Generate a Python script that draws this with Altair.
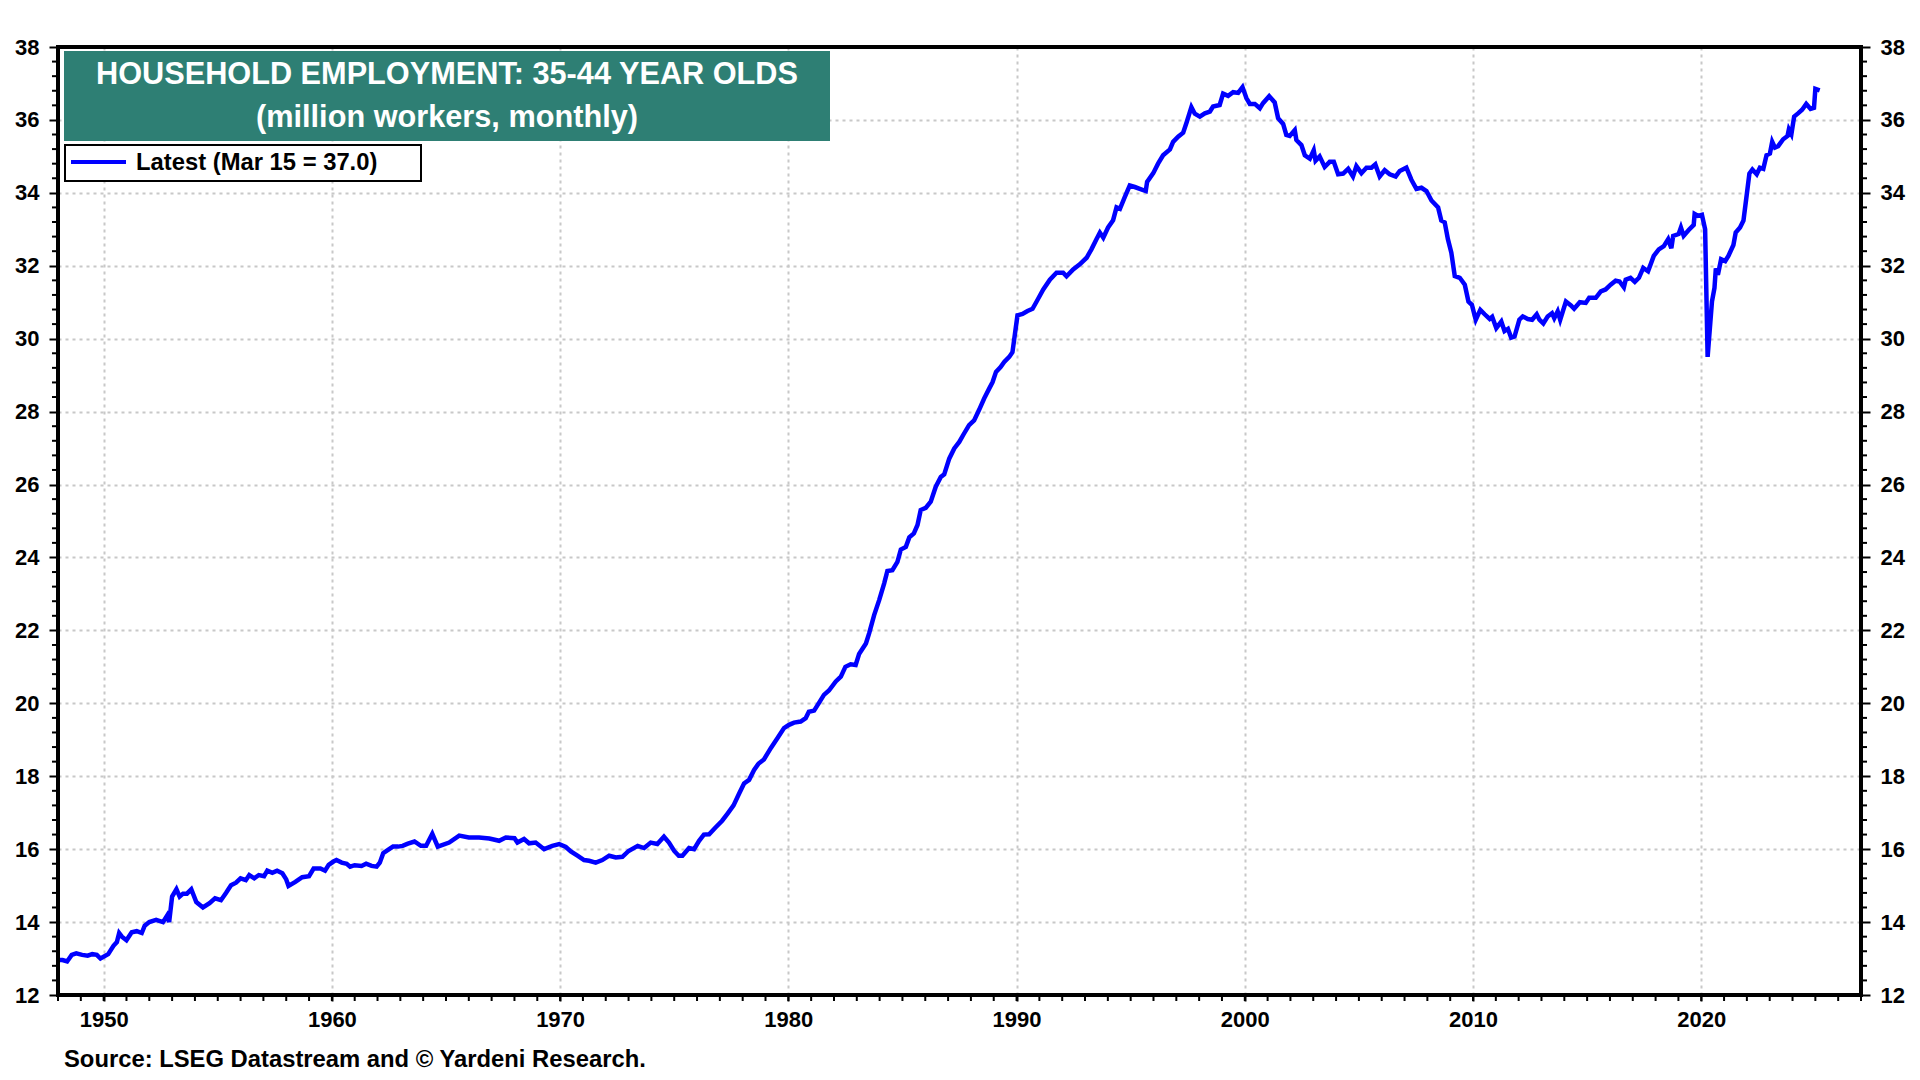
import altair as alt
import pandas as pd

# ---------------- data ----------------
yr_1948_1964 = [1948.0, 1948.2, 1948.4, 1948.6, 1948.8, 1949.06, 1949.3, 1949.5, 1949.7, 1949.86,
                1950.2, 1950.43, 1950.58, 1950.68, 1950.8, 1951.0, 1951.23, 1951.45, 1951.67, 1951.8,
                1952.0, 1952.3, 1952.6, 1952.78, 1952.87, 1953.0, 1953.19, 1953.33, 1953.48, 1953.65,
                1953.84, 1954.06, 1954.35, 1954.64, 1954.88, 1955.14, 1955.36, 1955.58, 1955.8, 1956.0,
                1956.23, 1956.38, 1956.6, 1956.8, 1957.03, 1957.17, 1957.39, 1957.6, 1957.83, 1958.0,
                1958.1, 1958.4, 1958.7, 1959.0, 1959.2, 1959.5, 1959.7, 1959.86, 1960.07, 1960.2,
                1960.43, 1960.65, 1960.8, 1961.0, 1961.3, 1961.5, 1961.74, 1961.96, 1962.1, 1962.25,
                1962.46, 1962.68, 1962.9, 1963.1, 1963.33, 1963.62, 1963.9, 1964.13, 1964.4, 1964.64]
val_1948_1964 = [12.96, 12.96, 12.92, 13.1, 13.14, 13.1, 13.08, 13.12, 13.1, 13.0,
                 13.12, 13.35, 13.45, 13.7, 13.6, 13.5, 13.72, 13.75, 13.7, 13.9,
                 14.0, 14.06, 14.0, 14.18, 14.0, 14.7, 14.9, 14.7, 14.78, 14.78,
                 14.9, 14.55, 14.4, 14.52, 14.65, 14.6, 14.8, 15.01, 15.08, 15.2,
                 15.15, 15.29, 15.2, 15.29, 15.26, 15.41, 15.35, 15.41, 15.34, 15.17,
                 14.99, 15.1, 15.23, 15.26, 15.47, 15.47, 15.41, 15.57, 15.66, 15.7,
                 15.63, 15.6, 15.52, 15.56, 15.54, 15.6, 15.54, 15.52, 15.63, 15.89,
                 15.98, 16.07, 16.07, 16.09, 16.15, 16.21, 16.09, 16.09, 16.42, 16.07]

yr_1965_1978 = [1965.14, 1965.58, 1966.0, 1966.45, 1966.9, 1967.33, 1967.62, 1968.0, 1968.13, 1968.42,
                1968.64, 1968.93, 1969.3, 1969.66, 1969.96, 1970.25, 1970.47, 1970.76, 1971.05, 1971.27,
                1971.56, 1971.85, 1972.15, 1972.44, 1972.73, 1973.0, 1973.4, 1973.68, 1973.97, 1974.26,
                1974.55, 1974.77, 1975.0, 1975.2, 1975.36, 1975.65, 1975.87, 1976.09, 1976.3, 1976.53,
                1976.82, 1977.1, 1977.33, 1977.6, 1977.84, 1978.06, 1978.28, 1978.5, 1978.7, 1978.93]
val_1965_1978 = [16.18, 16.37, 16.32, 16.32, 16.29, 16.23, 16.32, 16.3, 16.18, 16.28,
                 16.16, 16.18, 16.0, 16.09, 16.14, 16.06, 15.94, 15.82, 15.7, 15.68,
                 15.63, 15.7, 15.82, 15.77, 15.79, 15.95, 16.09, 16.03, 16.18, 16.14,
                 16.34, 16.18, 15.95, 15.82, 15.82, 16.03, 16.0, 16.23, 16.4, 16.41,
                 16.6, 16.78, 16.97, 17.2, 17.52, 17.8, 17.9, 18.17, 18.35, 18.46]

yr_1979_1990 = [1979.23, 1979.52, 1979.81, 1980.03, 1980.25, 1980.54, 1980.76, 1980.9, 1981.13, 1981.35,
                1981.56, 1981.78, 1982.08, 1982.3, 1982.5, 1982.73, 1982.95, 1983.1, 1983.4, 1983.54,
                1983.76, 1983.98, 1984.2, 1984.34, 1984.56, 1984.78, 1984.93, 1985.15, 1985.3, 1985.5,
                1985.66, 1985.8, 1986.02, 1986.24, 1986.46, 1986.68, 1986.83, 1987.05, 1987.27, 1987.49,
                1987.7, 1987.92, 1988.14, 1988.36, 1988.58, 1988.8, 1988.95, 1989.1, 1989.3, 1989.46,
                1989.68, 1989.82, 1990.04, 1990.26, 1990.48, 1990.7]
val_1979_1990 = [18.77, 19.04, 19.32, 19.41, 19.47, 19.5, 19.59, 19.77, 19.8, 20.02,
                 20.23, 20.35, 20.6, 20.73, 21.0, 21.07, 21.05, 21.35, 21.64, 21.92,
                 22.42, 22.83, 23.29, 23.63, 23.65, 23.88, 24.22, 24.29, 24.55, 24.66,
                 24.89, 25.3, 25.36, 25.53, 25.94, 26.21, 26.28, 26.71, 26.99, 27.17,
                 27.4, 27.63, 27.76, 28.05, 28.36, 28.63, 28.81, 29.09, 29.22, 29.36,
                 29.5, 29.63, 30.64, 30.68, 30.76, 30.82]

yr_1991_2008 = [1990.88, 1991.17, 1991.46, 1991.75, 1992.04, 1992.19, 1992.48, 1992.77, 1993.07, 1993.28,
                1993.5, 1993.65, 1993.8, 1994.01, 1994.23, 1994.38, 1994.53, 1994.74, 1994.96, 1995.18,
                1995.4, 1995.66, 1995.72, 1995.99, 1996.2, 1996.42, 1996.72, 1996.86, 1997.08, 1997.3,
                1997.45, 1997.66, 1997.81, 1998.03, 1998.25, 1998.47, 1998.61, 1998.9, 1999.05, 1999.27,
                1999.49, 1999.71, 1999.9, 2000.07, 2000.22, 2000.44, 2000.66, 2000.8, 2001.07, 2001.31,
                2001.46, 2001.68, 2001.82, 2001.97, 2002.19, 2002.26, 2002.48, 2002.63, 2002.85, 2003.02,
                2003.1, 2003.28, 2003.5, 2003.72, 2003.9, 2004.09, 2004.31, 2004.53, 2004.74, 2004.89,
                2005.11, 2005.33, 2005.55, 2005.72, 2005.91, 2006.13, 2006.35, 2006.61, 2006.79, 2007.08,
                2007.3, 2007.52, 2007.74, 2007.96, 2008.18, 2008.47, 2008.61, 2008.76, 2008.9]
val_1991_2008 = [31.02, 31.35, 31.62, 31.81, 31.81, 31.71, 31.9, 32.04, 32.22, 32.45,
                 32.73, 32.91, 32.77, 33.05, 33.25, 33.6, 33.56, 33.88, 34.2, 34.16,
                 34.11, 34.05, 34.3, 34.54, 34.8, 35.03, 35.19, 35.4, 35.54, 35.65,
                 35.93, 36.35, 36.17, 36.09, 36.18, 36.23, 36.37, 36.41, 36.72, 36.66,
                 36.76, 36.74, 36.9, 36.6, 36.44, 36.44, 36.32, 36.46, 36.65, 36.48,
                 36.05, 35.89, 35.59, 35.56, 35.72, 35.45, 35.31, 35.03, 34.94, 35.17,
                 34.88, 35.0, 34.71, 34.85, 34.85, 34.51, 34.53, 34.66, 34.45, 34.73,
                 34.54, 34.69, 34.69, 34.78, 34.45, 34.62, 34.51, 34.45, 34.6, 34.69,
                 34.36, 34.11, 34.14, 34.05, 33.79, 33.6, 33.24, 33.19, 32.73]

yr_2009_2025 = [2009.05, 2009.2, 2009.42, 2009.64, 2009.8, 2009.95, 2010.12, 2010.32, 2010.51, 2010.73,
                2010.84, 2011.02, 2011.24, 2011.38, 2011.53, 2011.67, 2011.82, 2012.03, 2012.18, 2012.4,
                2012.59, 2012.79, 2012.91, 2013.08, 2013.27, 2013.46, 2013.56, 2013.71, 2013.82, 2014.07,
                2014.29, 2014.43, 2014.68, 2014.94, 2015.09, 2015.38, 2015.6, 2015.81, 2016.03, 2016.25,
                2016.42, 2016.61, 2016.69, 2016.9, 2017.09, 2017.27, 2017.46, 2017.67, 2017.92, 2018.14,
                2018.36, 2018.55, 2018.69, 2018.77, 2019.01, 2019.11, 2019.23, 2019.45, 2019.67, 2019.71,
                2019.85, 2020.03, 2020.17, 2020.28, 2020.47, 2020.58, 2020.64, 2020.73, 2020.87, 2021.05,
                2021.19, 2021.41, 2021.51, 2021.7, 2021.85, 2021.99, 2022.11, 2022.24, 2022.43, 2022.57,
                2022.72, 2022.86, 2023.01, 2023.11, 2023.23, 2023.37, 2023.59, 2023.78, 2023.84, 2023.95,
                2024.07, 2024.24, 2024.42, 2024.6, 2024.79, 2024.94, 2025.0, 2025.19]
val_2009_2025 = [32.36, 31.72, 31.67, 31.48, 31.02, 30.93, 30.52, 30.79, 30.67, 30.54,
                 30.6, 30.29, 30.47, 30.21, 30.27, 30.03, 30.06, 30.52, 30.61, 30.54,
                 30.52, 30.67, 30.52, 30.42, 30.61, 30.7, 30.56, 30.75, 30.52, 31.02,
                 30.91, 30.82, 31.0, 30.98, 31.12, 31.12, 31.3, 31.35, 31.48, 31.59,
                 31.57, 31.41, 31.62, 31.67, 31.56, 31.67, 31.94, 31.85, 32.27, 32.45,
                 32.54, 32.73, 32.48, 32.82, 32.87, 33.05, 32.82, 32.98, 33.12, 33.42,
                 33.37, 33.4, 33.0, 29.5, 31.02, 31.39, 31.93, 31.75, 32.18, 32.13,
                 32.27, 32.57, 32.91, 33.05, 33.24, 33.93, 34.53, 34.64, 34.51, 34.69,
                 34.66, 35.03, 35.08, 35.4, 35.24, 35.28, 35.47, 35.56, 35.74, 35.61,
                 36.09, 36.18, 36.28, 36.44, 36.3, 36.33, 36.85, 36.81]

x_label_years = [1950, 1960, 1970, 1980, 1990, 2000, 2010, 2020]
x_minor_years = list(range(1948, 2028))
y_label_values = [12, 14, 16, 18, 20, 22, 24, 26, 28, 30, 32, 34, 36, 38]
y_minor_values = [round(12 + 0.4 * i, 1) for i in range(66) if (i % 5) != 0]

title_lines = ["HOUSEHOLD EMPLOYMENT: 35-44 YEAR OLDS", "(million workers, monthly)"]
legend_label = "Latest (Mar 15 = 37.0)"
source_text = "Source: LSEG Datastream and \u00a9 Yardeni Research."

years = yr_1948_1964 + yr_1965_1978 + yr_1979_1990 + yr_1991_2008 + yr_2009_2025
values = val_1948_1964 + val_1965_1978 + val_1979_1990 + val_1991_2008 + val_2009_2025
assert len(years) == len(values)
df = pd.DataFrame({"year": years, "value": values})

# ---------------- style ----------------
W, H = 1803, 948
FONT = "Liberation Sans"
BLUE = "#0000ff"
TEAL = "#2e7f74"
GRID = "#c8c8c8"
LBL = 22

x_scale = alt.Scale(domain=[1948, 2027], nice=False, zero=False)
y_scale = alt.Scale(domain=[12, 38], nice=False, zero=False)

x_axis = alt.Axis(values=x_label_years, format="d", title=None, grid=True, gridColor=GRID,
                  gridDash=[3, 4], gridWidth=2, domain=False, ticks=True, tickSize=6, tickWidth=2,
                  tickColor="black", labelFont=FONT, labelFontSize=LBL, labelFontWeight="bold",
                  labelColor="black", labelPadding=8, labelFlush=False)
left_axis = alt.Axis(values=y_label_values, format="d", title=None, grid=True, gridColor=GRID,
                     gridDash=[3, 4], gridWidth=2, domain=False, tickSize=9, tickWidth=2,
                     tickColor="black", labelFont=FONT, labelFontSize=LBL, labelFontWeight="bold",
                     labelColor="black", labelPadding=10, labelFlush=False, orient="left")
right_axis = alt.Axis(values=y_label_values, format="d", title=None, grid=False, domain=False,
                      tickSize=9, tickWidth=2, tickColor="black", labelFont=FONT, labelFontSize=LBL,
                      labelFontWeight="bold", labelColor="black", labelPadding=10, labelFlush=False,
                      orient="right")

ydf = pd.DataFrame({"t": y_minor_values})
left_minor = alt.Chart(ydf).mark_rule(color="black", strokeWidth=2).encode(
    y=alt.Y("t:Q", scale=y_scale, axis=None), x=alt.value(-6), x2=alt.value(0))
right_minor = alt.Chart(ydf).mark_rule(color="black", strokeWidth=2).encode(
    y=alt.Y("t:Q", scale=y_scale, axis=right_axis), x=alt.value(W), x2=alt.value(W + 6))
x_minor = alt.Chart(pd.DataFrame({"year": x_minor_years})).mark_rule(color="black", strokeWidth=2).encode(
    x=alt.X("year:Q", scale=x_scale, axis=x_axis), y=alt.value(H), y2=alt.value(H + 6))

line = alt.Chart(df).mark_line(color=BLUE, strokeWidth=4.5, clip=True).encode(
    x=alt.X("year:Q", scale=x_scale, axis=x_axis),
    y=alt.Y("value:Q", scale=y_scale, axis=left_axis))

frame = alt.Chart(pd.DataFrame({"a": [0]})).mark_rect(fill="transparent", stroke="black", strokeWidth=4).encode(
    x=alt.value(0), x2=alt.value(W), y=alt.value(0), y2=alt.value(H))

one = pd.DataFrame({"a": [0]})
title_box = alt.Chart(one).mark_rect(fill=TEAL).encode(
    x=alt.value(6), x2=alt.value(772), y=alt.value(4), y2=alt.value(94))
title1 = alt.Chart(one).mark_text(text=title_lines[0], font=FONT, fontSize=30.7, fontWeight="bold",
                                  color="white", align="center", baseline="middle").encode(
    x=alt.value(389), y=alt.value(28))
title2 = alt.Chart(one).mark_text(text=title_lines[1], font=FONT, fontSize=30.7, fontWeight="bold",
                                  color="white", align="center", baseline="middle").encode(
    x=alt.value(389), y=alt.value(71))

legend_box = alt.Chart(one).mark_rect(fill="white", stroke="black", strokeWidth=2).encode(
    x=alt.value(7), x2=alt.value(363), y=alt.value(98), y2=alt.value(134))
legend_line = alt.Chart(one).mark_rule(color=BLUE, strokeWidth=4).encode(
    x=alt.value(13), x2=alt.value(68), y=alt.value(115))
legend_text = alt.Chart(one).mark_text(text=legend_label, font=FONT, fontSize=23.8, fontWeight="bold",
                                       color="black", align="left", baseline="middle").encode(
    x=alt.value(78), y=alt.value(116))

source = alt.Chart(one).mark_text(text=source_text, font=FONT, fontSize=23.8, fontWeight="bold",
                                  color="black", align="left", baseline="middle").encode(
    x=alt.value(6), y=alt.value(1013))

chart = alt.layer(
    left_minor, right_minor, x_minor, line, frame, title_box, title1, title2,
    legend_box, legend_line, legend_text, source
).resolve_scale(y="independent").properties(
    width=W, height=H,
    autosize=alt.AutoSizeParams(type="none"),
    padding={"left": 50, "top": 39, "right": 51, "bottom": 77},
    background="white",
).configure_view(strokeWidth=0)

chart.save("out.html", embed_options={"renderer": "svg", "actions": False})
